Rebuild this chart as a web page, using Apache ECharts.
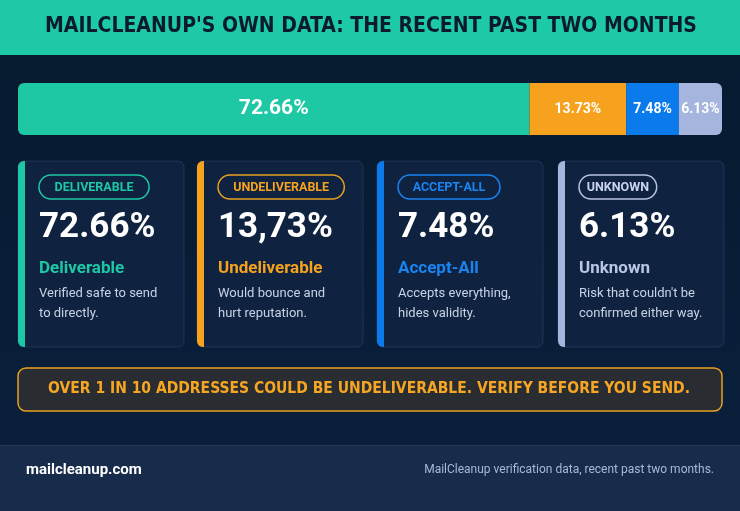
<!DOCTYPE html>
<html>
<head>
<meta charset="utf-8">
<script src="https://cdn.jsdelivr.net/npm/echarts@6/dist/echarts.min.js"></script>
<style>
  html, body { margin: 0; padding: 0; background: #07192f; }
  #chart { width: 740px; height: 511px; }
</style>
</head>
<body>
<div id="chart"></div>
<script>
// data
const categories = ['Deliverable', 'Undeliverable', 'Accept-All', 'Unknown'];
const shares = [72.66, 13.73, 7.48, 6.13];
const cardValues = ['72.66%', '13,73%', '7.48%', '6.13%'];
const pillLabels = ['DELIVERABLE', 'UNDELIVERABLE', 'ACCEPT-ALL', 'UNKNOWN'];
const descriptions = [
  ['Verified safe to send', 'to directly.'],
  ['Would bounce and', 'hurt reputation.'],
  ['Accepts everything,', 'hides validity.'],
  ["Risk that couldn't be", 'confirmed either way.']
];
const titleText = "MAILCLEANUP'S OWN DATA: THE RECENT PAST TWO MONTHS";
const bannerText = 'OVER 1 IN 10 ADDRESSES COULD BE UNDELIVERABLE. VERIFY BEFORE YOU SEND.';
const footerLeft = 'mailcleanup.com';
const footerRight = 'MailCleanup verification data, recent past two months.';

const colors = ['#1ec8a5', '#f6a21e', '#0b7bec', '#a6b5de'];
const pillText = ['#1ec8a5', '#f6a21e', '#1a84f0', '#c9d3ec'];
const pillBorder = ['#1ec8a5', '#e8a020', '#1a84f0', '#b6c2de'];
const nameColors = ['#1ec8a5', '#f6a21e', '#1a84f0', '#bac6e6'];

const chart = echarts.init(document.getElementById('chart'));
chart.clear();

// card layout
const cardX = [18, 197, 377, 558];
const cardW = 166, cardY = 161, cardH = 186;

const graphics = [];
// title band
graphics.push({
  type: 'rect', z: 0,
  shape: { x: 0, y: 0, width: 740, height: 55 },
  style: { fill: '#1dc9a7' }
});
graphics.push({
  type: 'text', z: 2,
  style: {
    text: titleText, x: 371, y: 27, align: 'center', verticalAlign: 'middle',
    fill: '#0b1a2e', fontFamily: 'DejaVu Sans Condensed', fontWeight: 'bold', fontSize: 21
  }
});
// body background
graphics.push({
  type: 'rect', z: -1,
  shape: { x: 0, y: 55, width: 740, height: 390 },
  style: {
    fill: new echarts.graphic.LinearGradient(0, 0, 0, 1, [
      { offset: 0, color: '#061a30' }, { offset: 1, color: '#0a1f3b' }
    ])
  }
});

categories.forEach(function (name, i) {
  const x = cardX[i];
  graphics.push({
    type: 'rect', z: 1,
    shape: { x: x, y: cardY, width: cardW, height: cardH, r: 6 },
    style: { fill: '#0f2340', stroke: 'rgba(120,150,200,0.18)', lineWidth: 1 }
  });
  graphics.push({
    type: 'rect', z: 2,
    shape: { x: x, y: cardY, width: 7, height: cardH, r: [6, 0, 0, 6] },
    style: { fill: colors[i] }
  });
  // pill
  const pillW = pillLabels[i].length * 8.1 + 21;
  graphics.push({
    type: 'rect', z: 2,
    shape: { x: x + 21, y: 175, width: pillW, height: 24, r: 12 },
    style: { fill: 'rgba(0,0,0,0)', stroke: pillBorder[i], lineWidth: 1.5 }
  });
  graphics.push({
    type: 'text', z: 3,
    style: {
      text: pillLabels[i], x: x + 21 + pillW / 2, y: 187.5, align: 'center', verticalAlign: 'middle',
      fill: pillText[i], fontFamily: 'Roboto', fontWeight: 'bold', fontSize: 12.5
    }
  });
  graphics.push({
    type: 'text', z: 3,
    style: {
      text: cardValues[i], x: x + 21, y: 228, verticalAlign: 'middle',
      fill: '#ffffff', fontFamily: 'Roboto', fontWeight: 'bold', fontSize: 35
    }
  });
  graphics.push({
    type: 'text', z: 3,
    style: {
      text: name, x: x + 21, y: 269, verticalAlign: 'middle',
      fill: nameColors[i], fontFamily: 'Roboto', fontWeight: 'bold', fontSize: 17
    }
  });
  descriptions[i].forEach(function (line, j) {
    graphics.push({
      type: 'text', z: 3,
      style: {
        text: line, x: x + 21, y: 294 + j * 20, verticalAlign: 'middle',
        fill: '#c8d2e6', fontFamily: 'Roboto', fontSize: 13
      }
    });
  });
});

// banner
graphics.push({
  type: 'rect', z: 1,
  shape: { x: 18, y: 368, width: 704, height: 43, r: 8 },
  style: { fill: '#292d31', stroke: '#e8a020', lineWidth: 1.5 }
});
graphics.push({
  type: 'text', z: 2,
  style: {
    text: bannerText, x: 369, y: 389, align: 'center', verticalAlign: 'middle',
    fill: '#f6a623', fontFamily: 'DejaVu Sans Condensed', fontWeight: 'bold', fontSize: 15.5
  }
});

// footer
graphics.push({
  type: 'rect', z: 0,
  shape: { x: 0, y: 445, width: 740, height: 66 },
  style: { fill: '#172b4a' }
});
graphics.push({
  type: 'line', z: 1,
  shape: { x1: 0, y1: 445.5, x2: 740, y2: 445.5 },
  style: { stroke: '#24395a', lineWidth: 1 }
});
graphics.push({
  type: 'text', z: 2,
  style: {
    text: footerLeft, x: 26, y: 470, verticalAlign: 'middle',
    fill: '#ffffff', fontFamily: 'Roboto', fontWeight: 'bold', fontSize: 15
  }
});
graphics.push({
  type: 'text', z: 2,
  style: {
    text: footerRight, x: 714, y: 470, align: 'right', verticalAlign: 'middle',
    fill: '#a9b8d8', fontFamily: 'Roboto', fontSize: 12
  }
});

const last = shares.length - 1;
const optionData = {
  backgroundColor: '#07192f',
  animation: false,
  grid: { left: 18, right: 18, top: 83, height: 52 },
  xAxis: { type: 'value', min: 0, max: 100, show: false },
  yAxis: { type: 'category', data: ['share'], show: false },
  graphic: graphics,
  series: shares.map(function (v, i) {
    return {
      name: categories[i],
      type: 'bar',
      stack: 'total',
      barWidth: '100%',
      z: 5,
      data: [v],
      itemStyle: {
        color: colors[i],
        borderRadius: i === 0 ? [6, 0, 0, 6] : (i === last ? [0, 6, 6, 0] : 0)
      },
      label: {
        show: true,
        position: 'inside',
        color: '#ffffff',
        fontFamily: 'Roboto',
        fontWeight: 'bold',
        fontSize: i === 0 ? 21 : 14,
        formatter: function (p) { return p.value.toFixed(2) + '%'; }
      }
    };
  })
};

chart.setOption(optionData);
</script>
</body>
</html>
